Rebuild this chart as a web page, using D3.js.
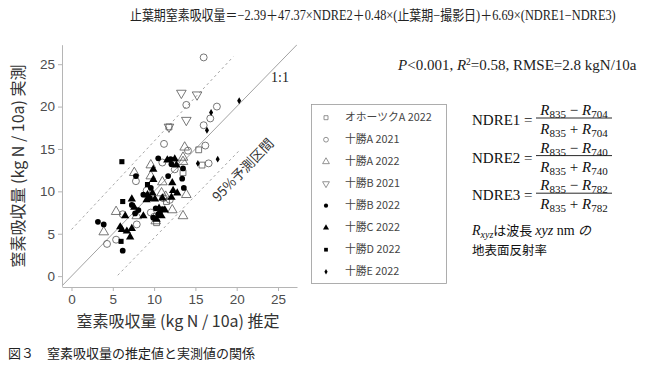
<!DOCTYPE html>
<html><head><meta charset="utf-8">
<script src="https://cdn.jsdelivr.net/npm/d3@7"></script>
<style>body{margin:0;background:#fff} svg{display:block}</style>
</head><body><svg id="c" width="650" height="368"></svg>
<script>
// ---------------- data ----------------
const seriesNames = ["オホーツクA 2022","十勝A 2021","十勝A 2022","十勝B 2021","十勝B 2022","十勝C 2022","十勝D 2022","十勝E 2022"];
const okhotskA2022 = [[11.8,17.6],[15.4,14.9],[15.8,13.1],[13.5,12.2],[11.5,8.8],[10.3,6.3]];
const tokachiA2021 = [[16.0,25.8],[13.9,20.2],[17.6,20.0],[16.8,18.6],[16.0,17.8],[11.2,15.6],[14.1,14.8],[16.2,15.4],[16.6,13.3],[11.0,13.4],[12.5,12.6],[7.8,11.2],[9.1,10.1],[11.1,9.2],[11.9,9.0],[6.2,7.3],[9.6,7.5],[10.0,7.0],[7.9,6.1],[5.4,4.3],[4.3,3.8]];
const tokachiA2022 = [[13.7,15.2],[13.5,14.0],[13.5,13.5],[9.6,13.1],[7.6,12.2],[9.6,11.8],[11.0,11.1],[13.9,9.6],[10.9,9.8],[12.2,7.8],[13.5,7.1],[5.4,7.6],[7.9,7.1],[10.2,6.5],[3.9,5.2],[11.4,9.4]];
const tokachiB2021 = [[13.3,21.6],[15.2,21.4],[13.9,18.4],[11.8,17.6]];
const tokachiB2022 = [[10.5,13.9],[12.0,13.8],[12.1,13.2],[13.5,12.7],[13.4,11.5],[7.8,11.8],[11.7,11.8],[13.6,10.4],[9.6,10.4],[7.3,8.4],[8.7,9.6],[9.5,9.2],[7.7,7.4],[10.7,7.5],[10.2,8.0],[10.5,7.3],[9.9,6.9],[3.2,6.4],[3.9,6.1],[6.2,3.0],[11.0,7.9],[8.1,7.8]];
const tokachiC2022 = [[12.5,13.8],[11.6,13.7],[12.7,13.1],[12.2,11.0],[12.3,10.1],[12.8,9.8],[10.1,9.1],[12.1,9.3],[10.9,7.1],[10.3,6.7],[9.9,11.4],[9.8,9.8],[9.2,9.6],[9.1,9.0],[7.3,9.1],[7.6,8.1],[8.7,7.1],[6.5,7.1],[7.3,5.6],[6.1,5.5],[5.9,5.8],[6.7,5.3],[7.1,4.6],[11.0,9.2],[10.6,8.0],[11.3,7.8],[9.9,12.6]];
const tokachiD2022 = [[6.1,13.5],[9.2,10.8],[6.2,8.8],[6.0,4.1]];
const tokachiE2022 = [[20.3,20.7],[16.9,19.3],[16.4,17.2],[17.7,13.8],[15.3,13.3]];
const oneToOne = [[-1.15,-1.15],[27.3,27.3]];
const upperPI = [[0,5.5],[19.6,25.9]];
const lowerPI = [[5.6,0.1],[20.4,14.9]];
const axisTicks = [0,5,10,15,20,25];
const titleParts = [["止葉期窒素吸収量＝","c"],["−2.39","l"],["＋","c"],["47.37×NDRE2","l"],["＋","c"],["0.48×(","l"],["止葉期","c"],["−","l"],["撮影日","c"],[")","l"],["＋","c"],["6.69×(NDRE1−NDRE3)","l"]];

// ---------------- drawing ----------------
const svg = d3.select("#c");
const x = d3.scaleLinear().domain([-1.15,27.3]).range([62,297]);
const y = d3.scaleLinear().domain([-1.2,27.3]).range([286.3,44.7]);

const serif = "'Liberation Serif','Noto Sans CJK JP',serif";
const sans = "'Liberation Sans','Noto Sans CJK JP',sans-serif";
const cjk = "'Noto Sans CJK JP','Liberation Sans',sans-serif";

svg.append("clipPath").attr("id","pc").append("rect").attr("x",62).attr("y",44).attr("width",235).attr("height",243);
const plot = svg.append("g").attr("clip-path","url(#pc)");
const line = d3.line().x(d=>x(d[0])).y(d=>y(d[1]));
plot.append("path").attr("d",line(oneToOne)).attr("stroke","#8a8a8a").attr("stroke-width",0.8).attr("fill","none");
[upperPI,lowerPI].forEach(p=>plot.append("path").attr("d",line(p)).attr("stroke","#9a9a9a").attr("stroke-width",0.9).attr("stroke-dasharray","2.5,3").attr("fill","none"));

// axes
const ax = svg.append("g").attr("transform","translate(0,287)")
  .call(d3.axisBottom(x).tickValues(axisTicks).tickSize(4).tickSizeOuter(0).tickPadding(3));
const ay = svg.append("g").attr("transform","translate(62,0)")
  .call(d3.axisLeft(y).tickValues(axisTicks).tickSize(4).tickSizeOuter(0).tickPadding(3));
[ax,ay].forEach(a=>{
  a.select(".domain").attr("stroke","#b5b5b5");
  a.selectAll(".tick line").attr("stroke","#b5b5b5");
  a.selectAll(".tick text").attr("fill","#4d4d4d").style("font-family",sans).style("font-size","13.5px");
});

// symbols
const symDefs = [
  {data:okhotskA2022, type:d3.symbolSquare, size:34, fill:"none", stroke:"#555", rot:0},
  {data:tokachiA2021, type:d3.symbolCircle, size:38, fill:"none", stroke:"#555", rot:0},
  {data:tokachiA2022, type:d3.symbolTriangle, size:40, fill:"none", stroke:"#555", rot:0},
  {data:tokachiB2021, type:d3.symbolTriangle, size:40, fill:"none", stroke:"#555", rot:180},
  {data:tokachiB2022, type:d3.symbolCircle, size:26, fill:"#000", stroke:"none", rot:0},
  {data:tokachiC2022, type:d3.symbolTriangle, size:30, fill:"#000", stroke:"none", rot:0},
  {data:tokachiD2022, type:d3.symbolSquare, size:26, fill:"#000", stroke:"none", rot:0},
  {data:tokachiE2022, type:d3.symbolDiamond, size:14, fill:"#000", stroke:"none", rot:0}
];
symDefs.forEach(s=>{
  plot.append("g").selectAll("path").data(s.data).join("path")
    .attr("d", d3.symbol().type(s.type).size(s.size))
    .attr("transform", d=>`translate(${x(d[0])},${y(d[1])}) rotate(${s.rot})`)
    .attr("fill", s.fill).attr("stroke", s.stroke).attr("stroke-width",0.8);
});

svg.append("text").attr("x",271).attr("y",82).text("1:1")
  .style("font-family",serif).style("font-size","14px").attr("fill","#222");
svg.append("text").attr("transform","translate(243,170) rotate(-46)").attr("text-anchor","middle")
  .attr("dy","0.35em").text("95%予測区間").style("font-family",cjk).style("font-size","13.5px").attr("fill","#333");

svg.append("text").attr("x",178).attr("y",327).attr("text-anchor","middle")
  .text("窒素吸収量 (kg N / 10a) 推定").style("font-family",cjk).style("font-size","16px").attr("fill","#333");
svg.append("text").attr("transform","translate(24,166) rotate(-90)").attr("text-anchor","middle")
  .text("窒素吸収量 (kg N / 10a) 実測").style("font-family",cjk).style("font-size","16px").attr("fill","#333");

// legend
svg.append("rect").attr("x",311.5).attr("y",104.5).attr("width",135).attr("height",179)
  .attr("fill","#fff").attr("stroke","#999").attr("stroke-width",0.8);
const legSizes=[16,18,20,20,14,16,14,9];
seriesNames.forEach((n,i)=>{
  const yy = 117.7 + i*22;
  const s = symDefs[i];
  svg.append("path").attr("d",d3.symbol().type(s.type).size(legSizes[i]))
    .attr("transform",`translate(326,${yy}) rotate(${s.rot})`)
    .attr("fill",s.fill).attr("stroke",s.stroke==="none"?"none":"#777").attr("stroke-width",0.8);
  svg.append("text").attr("x",345).attr("y",yy).attr("dy","0.35em").text(n)
    .style("font-family",cjk).style("font-size","10.8px").attr("fill","#444");
});

// title (horizontally condensed like the original's narrow serif)
const tt = svg.append("text").attr("transform","translate(130,20) scale(0.885,1)").attr("x",0).attr("y",0).attr("fill","#222");
titleParts.forEach(([s,k])=>{
  tt.append("tspan").text(s)
    .style("font-family", k==="c"?cjk:serif)
    .style("font-size", k==="c"?"13.5px":"14px");
});

// stats
const st = svg.append("text").attr("x",398).attr("y",70).style("font-family",serif).style("font-size","15px").attr("fill","#222");
st.append("tspan").attr("font-style","italic").text("P");
st.append("tspan").text("<0.001, ");
st.append("tspan").attr("font-style","italic").text("R");
st.append("tspan").attr("font-size","9.5px").attr("dy",-5).text("2");
st.append("tspan").attr("dy",5).text("=0.58, RMSE=2.8 kgN/10a");

// fractions
const fr = [["1","704"],["2","740"],["3","782"]];
fr.forEach((f,i)=>{
  const bar = 118 + i*37.6;
  svg.append("text").attr("x",472).attr("y",bar+7).text(`NDRE${f[0]} =`)
    .style("font-family",serif).style("font-size","15px").attr("fill","#111");
  svg.append("line").attr("x1",536).attr("x2",612).attr("y1",bar).attr("y2",bar).attr("stroke","#111").attr("stroke-width",0.9);
  [["−",bar-3],["+",bar+16]].forEach(([op,by])=>{
    const t = svg.append("text").attr("x",574).attr("y",by).attr("text-anchor","middle")
      .style("font-family",serif).style("font-size","15px").attr("fill","#111");
    t.append("tspan").attr("font-style","italic").text("R");
    t.append("tspan").attr("font-size","11px").attr("dy",3).text("835");
    t.append("tspan").attr("dy",-3).text(` ${op} `);
    t.append("tspan").attr("font-style","italic").text("R");
    t.append("tspan").attr("font-size","11px").attr("dy",3).text(f[1]);
  });
});
const n1 = svg.append("text").attr("x",472).attr("y",235).style("font-family",serif).style("font-size","14px").attr("fill","#111");
n1.append("tspan").attr("font-style","italic").text("R");
n1.append("tspan").attr("font-style","italic").attr("font-size","10px").attr("dy",3).text("xyz");
n1.append("tspan").attr("dy",-3).style("font-family",cjk).attr("font-size","13px").text("は波長 ");
n1.append("tspan").attr("font-style","italic").text("xyz");
n1.append("tspan").text(" nm ");
n1.append("tspan").style("font-family",cjk).attr("font-size","13px").attr("font-style","italic").text("の");
svg.append("text").attr("x",472).attr("y",255).text("地表面反射率")
  .style("font-family",cjk).style("font-size","12.5px").attr("fill","#111");

// caption
svg.append("text").attr("x",8).attr("y",358).text("図３　窒素吸収量の推定値と実測値の関係")
  .style("font-family",cjk).style("font-size","13px").attr("fill","#222");
</script></body></html>
